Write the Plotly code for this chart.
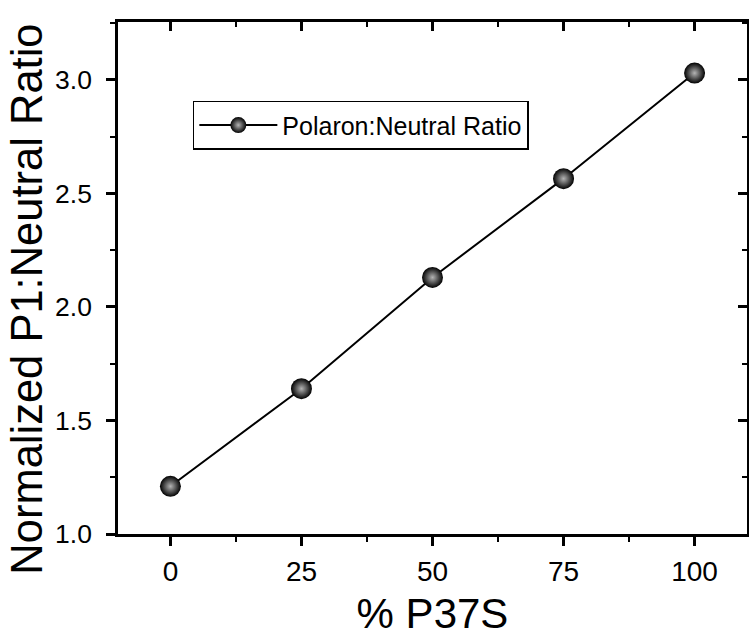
import plotly.graph_objects as go

# Composition of the blend (% P37S) and the normalized polaron:neutral ratio
pct_p37s = [0, 25, 50, 75, 100]
ratio = [1.21, 1.64, 2.13, 2.565, 3.03]

x_ticks = [0, 25, 50, 75, 100]
y_ticks = [1.0, 1.5, 2.0, 2.5, 3.0]

FONT = "Liberation Sans, Arial, sans-serif"

fig = go.Figure()
fig.add_trace(go.Scatter(
    x=pct_p37s, y=ratio,
    mode="lines+markers",
    name="Polaron:Neutral Ratio",
    line=dict(color="black", width=2),
    marker=dict(size=21, color="#000000",
                gradient=dict(type="radial", color="#b4b4b4"),
                line=dict(width=0)),
))

# mirrored axes on the top and right with inward ticks
fig.add_trace(go.Scatter(x=[None], y=[None], xaxis="x2", yaxis="y2",
                         showlegend=False, hoverinfo="skip"))

axis_common = dict(showline=True, linecolor="black", linewidth=2.5,
                   showgrid=False, zeroline=False, tickcolor="black",
                   tickwidth=2.5, ticklen=9)
minor_out = dict(ticks="outside", ticklen=5, tickwidth=2, tickcolor="black")
minor_in = dict(ticks="inside", ticklen=5, tickwidth=2, tickcolor="black")

fig.update_layout(
    width=749, height=637,
    margin=dict(l=118, r=2, t=22, b=103),
    paper_bgcolor="white", plot_bgcolor="white",
    font=dict(family=FONT, color="black"),
    xaxis=dict(range=[-10, 110], tickmode="array", tickvals=x_ticks,
               ticks="outside", tickfont=dict(size=28), ticklabelstandoff=2,
               minor=dict(dtick=12.5, tick0=0, **minor_out),
               title=dict(text="% P37S", font=dict(size=42), standoff=14),
               **axis_common),
    yaxis=dict(range=[1.0, 3.255], tickmode="array", tickvals=y_ticks,
               tickformat=".1f", ticks="outside", tickfont=dict(size=26.5),
               ticklabelstandoff=9,
               minor=dict(dtick=0.25, tick0=1.0, **minor_out),
               **axis_common),
    xaxis2=dict(overlaying="x", side="top", matches="x", range=[-10, 110],
                tickmode="array", tickvals=x_ticks, ticks="inside",
                showticklabels=False,
                minor=dict(dtick=12.5, tick0=0, **minor_in),
                **axis_common),
    yaxis2=dict(overlaying="y", side="right", matches="y", range=[1.0, 3.255],
                tickmode="array", tickvals=y_ticks, ticks="inside",
                showticklabels=False,
                minor=dict(dtick=0.25, tick0=1.0, **minor_in),
                **axis_common),
    legend=dict(x=0.119, y=0.846, xanchor="left", yanchor="top",
                bgcolor="white", bordercolor="black", borderwidth=1.5,
                font=dict(size=25, family=FONT), itemwidth=78,
                tracegroupgap=0),
    showlegend=True,
    annotations=[dict(
        text="Normalized P1:Neutral Ratio", textangle=-90,
        xref="paper", yref="paper", x=-0.146, y=0.458,
        xanchor="center", yanchor="middle", showarrow=False,
        font=dict(size=43.5, family=FONT, color="black"),
    )],
)

fig.write_html("out.html")
